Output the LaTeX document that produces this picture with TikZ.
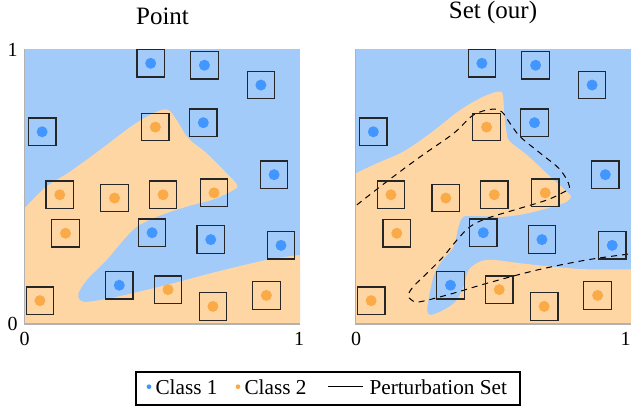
\documentclass[tikz,border=0pt]{standalone}
\usepackage{fontspec}
\setmainfont{Liberation Serif}
\usetikzlibrary{positioning}

\definecolor{bgblue}{RGB}{163,203,250}
\definecolor{bgorange}{RGB}{253,214,164}
\definecolor{ptblue}{RGB}{66,150,255}
\definecolor{ptorange}{RGB}{251,170,72}

\newcommand{\bluepts}{(0.458,0.948),(0.653,0.941),(0.858,0.869),(0.064,0.699),(0.649,0.732),
  (0.906,0.543),(0.463,0.332),(0.676,0.307),(0.931,0.286),(0.344,0.141)}
\newcommand{\orangepts}{(0.475,0.716),(0.128,0.470),(0.327,0.458),(0.503,0.470),(0.688,0.477),
  (0.149,0.330),(0.521,0.125),(0.684,0.064),(0.878,0.104),(0.056,0.085)}

\begin{document}
\begin{tikzpicture}[x=0.4pt, y=0.4pt,
  box/.style={draw=black!85, line width=0.5pt, minimum size=11pt, inner sep=0pt},
  bdot/.style={circle, fill=ptblue, minimum size=4.4pt, inner sep=0pt},
  odot/.style={circle, fill=ptorange, minimum size=4.4pt, inner sep=0pt},
  frame/.style={gray!60, line width=0.5pt},
  ticklbl/.style={font=\fontsize{8}{9}\selectfont, inner sep=0pt, anchor=base},
  ttl/.style={font=\fontsize{10}{12}\selectfont, inner sep=0pt, anchor=base},
  leg/.style={font=\fontsize{8.5}{10}\selectfont, inner sep=0pt, anchor=base west},
  legdot/.style={circle, minimum size=1.9pt, inner sep=0pt}]
  \useasboundingbox (0,0) rectangle (631,409);

  % left panel: point
  \begin{scope}[shift={(24.5,85)}, x=110.2pt, y=110pt]
    \fill[bgblue] (0,0) rectangle (1,1);
    \begin{scope}
      \clip (0,0) rectangle (1,1);
      \fill[bgorange] plot[smooth, tension=0.55] coordinates {(0,0.421) (0.08,0.50) (0.165,0.554)
        (0.274,0.633) (0.395,0.724) (0.48,0.772) (0.522,0.778) (0.552,0.742) (0.595,0.675)
        (0.661,0.621) (0.734,0.548) (0.772,0.505) (0.758,0.487) (0.685,0.453) (0.589,0.427)
        (0.48,0.39) (0.408,0.354) (0.359,0.305) (0.298,0.233) (0.226,0.16) (0.196,0.112)
        (0.201,0.087) (0.232,0.081) (0.335,0.099) (0.516,0.142) (0.698,0.19) (0.879,0.233)
        (1.0,0.251)} -- (1,0) -- (0,0) -- cycle;
    \end{scope}
    \draw[frame] (0,1) -- (0,0) -- (1,0);
    \foreach \p [count=\i] in \bluepts {
      \node[box] (lb\i) at \p {};
      \node[bdot] (lbd\i) at (lb\i) {};
    }
    \foreach \p [count=\i] in \orangepts {
      \node[box] (lo\i) at \p {};
      \node[odot] (lod\i) at (lo\i) {};
    }
  \end{scope}

  % right panel: set (our)
  \begin{scope}[shift={(355.7,85)}, x=110.2pt, y=110pt]
    \fill[bgblue] (0,0) rectangle (1,1);
    \begin{scope}
      \clip (0,0) rectangle (1,1);
      \fill[bgorange] plot[smooth, tension=0.55] coordinates {(0,0.548) (0.076,0.584) (0.173,0.627)
        (0.27,0.693) (0.379,0.778) (0.464,0.827) (0.518,0.845) (0.534,0.833) (0.539,0.766)
        (0.548,0.693) (0.56,0.663) (0.621,0.615) (0.706,0.536) (0.766,0.481) (0.781,0.463)
        (0.766,0.445) (0.718,0.427) (0.621,0.402) (0.536,0.39) (0.439,0.393) (0.391,0.39)
        (0.373,0.354) (0.355,0.281) (0.306,0.221) (0.282,0.172) (0.264,0.087) (0.26,0.045)
        (0.276,0.033) (0.33,0.057) (0.367,0.087) (0.391,0.136) (0.41,0.196) (0.451,0.227)
        (0.5,0.233) (0.597,0.221) (0.718,0.208) (0.839,0.199) (1,0.199)} -- (1,0) -- (0,0) -- cycle;
    \end{scope}
    \draw[frame] (0,1) -- (0,0) -- (1,0);
    \draw[line width=0.4pt, dash pattern=on 2.4pt off 2pt] plot[smooth, tension=0.55] coordinates {
      (0.004,0.433) (0.113,0.518) (0.234,0.608) (0.355,0.693) (0.427,0.76) (0.494,0.781)
      (0.53,0.772) (0.56,0.73) (0.597,0.681) (0.67,0.621) (0.742,0.561) (0.776,0.499)
      (0.752,0.478) (0.694,0.451) (0.597,0.421) (0.476,0.384) (0.415,0.354) (0.367,0.305)
      (0.318,0.245) (0.258,0.184) (0.209,0.136) (0.191,0.105) (0.203,0.087) (0.234,0.081)
      (0.355,0.112) (0.476,0.148) (0.657,0.196) (0.839,0.233) (0.996,0.255)};
    \foreach \p [count=\i] in \bluepts {
      \node[box] (rb\i) at \p {};
      \node[bdot] (rbd\i) at (rb\i) {};
    }
    \foreach \p [count=\i] in \orangepts {
      \node[box] (ro\i) at \p {};
      \node[odot] (rod\i) at (ro\i) {};
    }
  \end{scope}

  % titles and ticks
  \node[ttl] (tpoint) at (162.5,385) {Point};
  \node[ttl] (tset) at (493,390.5) {Set (our)};
  \node[ticklbl] (ly1) at (12.5,353) {1};
  \node[ticklbl] (ly0) at (12.5,79) {0};
  \node[ticklbl] (lx0) at (24.5,64) {0};
  \node[ticklbl] (lx1) at (299,64) {1};
  \node[ticklbl] (rx0) at (356,64) {0};
  \node[ticklbl] (rx1) at (625.5,64) {1};

  % legend
  \draw[line width=0.5pt] (136,4) rectangle (520,37);
  \node[legdot, fill=ptblue] (ld1) at (149,22.3) {};
  \node[leg] (lt1) at (155,14.7) {Class 1};
  \node[legdot, fill=ptorange] (ld2) at (238,22.3) {};
  \node[leg] (lt2) at (244,14.7) {Class 2};
  \coordinate (ls) at (328,22.3);
  \coordinate (le) at (363,22.3);
  \draw[line width=0.4pt] (ls) -- (le);
  \node[leg] (lt3) at (369,14.7) {Perturbation Set};
\end{tikzpicture}
\end{document}
